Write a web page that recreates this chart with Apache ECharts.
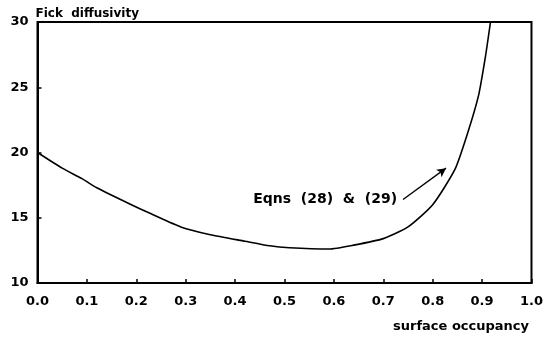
<!DOCTYPE html>
<html>
<head>
<meta charset="utf-8">
<script src="https://cdn.jsdelivr.net/npm/echarts@6/dist/echarts.min.js"></script>
<style>html,body{margin:0;padding:0;background:#fff}#c{width:546px;height:338px}</style>
</head>
<body>
<div id="c"></div>
<script>
// surface occupancy values
var occupancy = [0.00, 0.05, 0.09, 0.12, 0.19, 0.23, 0.29, 0.35, 0.42, 0.47, 0.51, 0.59, 0.64, 0.70, 0.75, 0.80, 0.845, 0.87, 0.893, 0.907, 0.917];
// Fick diffusivity values
var diffusivity = [20.0, 18.8, 18.0, 17.3, 16.0, 15.3, 14.3, 13.7, 13.2, 12.85, 12.7, 12.6, 12.9, 13.4, 14.3, 16.0, 18.7, 21.4, 24.4, 27.4, 30.0];
// annotation
var annotationText = 'Eqns  (28)  &  (29)';
var arrowFrom = [0.740, 16.4];
var arrowTo = [0.827, 18.8];
var xTitle = 'surface occupancy';
var yTitle = 'Fick  diffusivity';

var pts = occupancy.map(function (x, i) { return [x, diffusivity[i]]; });
var chart = echarts.init(document.getElementById('c'), null, { renderer: 'canvas' });
var font = 'DejaVu Sans';
chart.setOption({
  backgroundColor: '#fff',
  animation: false,
  title: {
    text: xTitle, right: 12, bottom: 0,
    textStyle: { fontFamily: font, fontSize: 13, fontWeight: 'bold', color: '#000' }
  },
  grid: { left: 37.5, right: 12, top: 22, bottom: 55, show: true, borderColor: '#000', borderWidth: 2 },
  xAxis: {
    type: 'value', min: 0, max: 1, interval: 0.1,
    axisLine: { show: true, lineStyle: { color: '#000', width: 2 } },
    axisTick: { show: true, inside: true, length: 4, lineStyle: { color: '#000', width: 1.5 } },
    splitLine: { show: false },
    axisLabel: { color: '#000', fontFamily: font, fontSize: 13, fontWeight: 'bold', margin: 12,
      formatter: function (v) { return v.toFixed(1); } }
  },
  yAxis: {
    type: 'value', min: 10, max: 30, interval: 5,
    name: yTitle, nameLocation: 'end', nameGap: 2,
    nameTextStyle: { color: '#000', fontFamily: font, fontSize: 12, fontWeight: 'bold', align: 'left', padding: [0, 0, 0, -2] },
    axisLine: { show: true, lineStyle: { color: '#000', width: 2 } },
    axisTick: { show: true, inside: true, length: 4, lineStyle: { color: '#000', width: 1.5 } },
    splitLine: { show: false },
    axisLabel: { color: '#000', fontFamily: font, fontSize: 13, fontWeight: 'bold', margin: 9 }
  },
  series: [{
    type: 'line', data: pts, smooth: 0.2, symbol: 'none',
    lineStyle: { color: '#000', width: 1.6 },
    markLine: {
      silent: true, symbol: ['none', 'arrow'], symbolSize: [7, 9],
      lineStyle: { color: '#000', width: 1.4, type: 'solid' },
      label: { show: false },
      data: [[{ coord: arrowFrom }, { coord: arrowTo }]]
    },
    markPoint: {
      silent: true, symbol: 'circle', symbolSize: 0,
      label: { show: true, position: 'left', distance: 6, formatter: annotationText,
        color: '#000', fontFamily: font, fontSize: 14, fontWeight: 'bold' },
      data: [{ coord: arrowFrom }]
    }
  }]
});
</script>
</body>
</html>
